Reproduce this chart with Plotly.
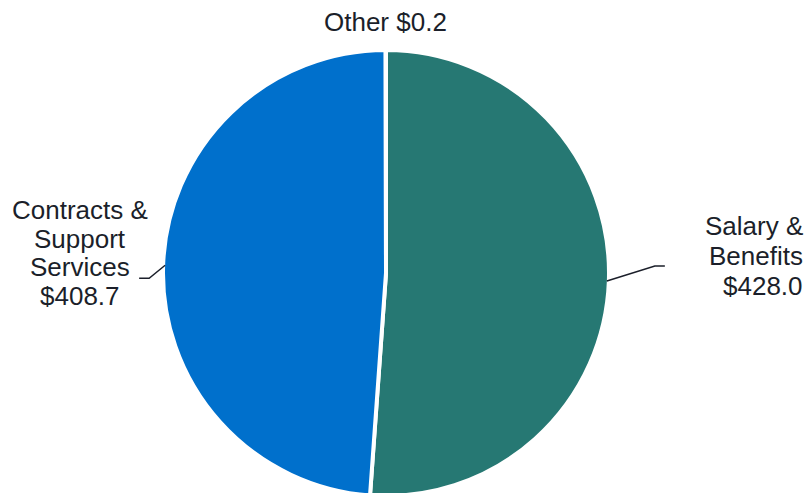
import math
import plotly.graph_objects as go

# ---- data ----
labels = ["Salary & Benefits", "Contracts & Support Services", "Other"]
values = [428.0, 408.7, 0.2]
colors = ["#267873", "#0070CC", "#7FA9C9"]
label_lines = [
    ["Salary &", "Benefits", "$428.0"],
    ["Contracts &", "Support", "Services", "$408.7"],
    ["Other $0.2"],
]

# ---- layout geometry (pixels) ----
W, H = 807, 500          # figure slightly taller than the window; bottom of pie is clipped
CX, CY, R = 386, 273, 221
LINE_W = 4
TEXT_COLOR = "#1b1f2a"
FONT = "Liberation Sans, Arial, sans-serif"
FS = 26


def px(x):
    return x / W


def py(y):
    return 1 - y / H


RD = R + LINE_W / 2  # plotly shrinks radius by half the border width

fig = go.Figure(
    go.Pie(
        labels=labels,
        values=values,
        sort=False,
        direction="clockwise",
        rotation=0,
        marker=dict(colors=colors, line=dict(color="white", width=LINE_W)),
        textinfo="none",
        hoverinfo="label+value",
        showlegend=False,
        domain=dict(x=[px(CX - RD), px(CX + RD)], y=[py(CY + RD), py(CY - RD)]),
    )
)

# mid angles of slices (clockwise from 12 o'clock), from the data
total = sum(values)
mids = []
acc = 0.0
for v in values:
    mids.append((acc + v / 2) / total * 360.0)
    acc += v


def edge_point(deg, r=R):
    a = math.radians(deg)
    return CX + r * math.sin(a), CY - r * math.cos(a)


annotations = []
shapes = []

# Salary & Benefits (right)
ex, ey = edge_point(mids[0])
p1 = (ex + 48, ey - 15)
p2 = (p1[0] + 10, p1[1])
shapes.append(dict(type="path", xref="paper", yref="paper",
                   path=f"M {px(ex)} {py(ey)} L {px(p1[0])} {py(p1[1])} L {px(p2[0])} {py(p2[1])}",
                   line=dict(color="#1b1f2a", width=1.5)))
for i, t in enumerate(label_lines[0]):
    annotations.append(dict(x=px(805), y=py(226 + i * 30), xref="paper", yref="paper",
                            text=t, showarrow=False, xanchor="right", yanchor="middle",
                            font=dict(size=FS, color=TEXT_COLOR, family=FONT)))

# Contracts & Support Services (left)
ex, ey = edge_point(mids[1])
p1 = (ex - 16, ey + 13)
p2 = (p1[0] - 10, p1[1])
shapes.append(dict(type="path", xref="paper", yref="paper",
                   path=f"M {px(ex)} {py(ey)} L {px(p1[0])} {py(p1[1])} L {px(p2[0])} {py(p2[1])}",
                   line=dict(color="#1b1f2a", width=1.5)))
for i, t in enumerate(label_lines[1]):
    annotations.append(dict(x=px(80), y=py(210 + i * 28.6), xref="paper", yref="paper",
                            text=t, showarrow=False, xanchor="center", yanchor="middle",
                            font=dict(size=FS, color=TEXT_COLOR, family=FONT)))

# Other (top)
for i, t in enumerate(label_lines[2]):
    annotations.append(dict(x=px(385), y=py(22), xref="paper", yref="paper",
                            text=t, showarrow=False, xanchor="center", yanchor="middle",
                            font=dict(size=FS, color=TEXT_COLOR, family=FONT)))

fig.update_layout(
    width=W, height=H,
    margin=dict(l=0, r=0, t=0, b=0),
    paper_bgcolor="white", plot_bgcolor="white",
    annotations=annotations, shapes=shapes,
)

fig.write_html(
    "out.html",
    config={"displayModeBar": False},
    post_script="document.body.style.margin='0';document.body.style.overflow='hidden';",
)
